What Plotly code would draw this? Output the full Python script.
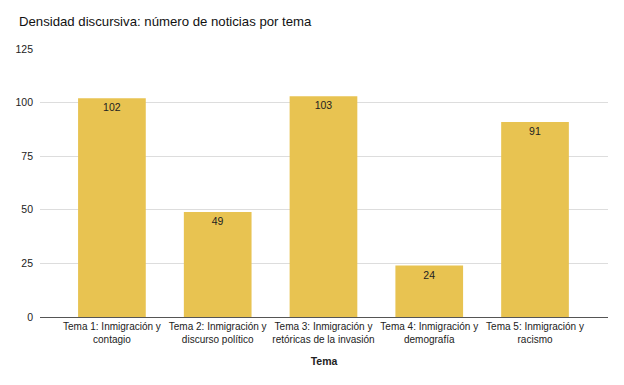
import plotly.graph_objects as go

categories = ["Tema 1: Inmigración y<br>contagio", "Tema 2: Inmigración y<br>discurso político",
              "Tema 3: Inmigración y<br>retóricas de la invasión", "Tema 4: Inmigración y<br>demografía",
              "Tema 5: Inmigración y<br>racismo"]
values = [102, 49, 103, 24, 91]
y_ticks = [0, 25, 50, 75, 100, 125]

fig = go.Figure(go.Bar(
    x=list(range(len(categories))), y=values, width=0.64,
    marker=dict(color="#E8C351", line=dict(width=0)),
    text=[str(v) for v in values], textposition="inside", insidetextanchor="end",
    textfont=dict(family="Liberation Sans, Arial", size=10.5, color="#222222"),
))
fig.update_layout(
    width=624, height=385,
    margin=dict(l=32, r=24, t=41, b=76),
    paper_bgcolor="white", plot_bgcolor="white",
    font=dict(family="Liberation Sans, Arial", size=10.5, color="#222222"),
    title=dict(text="Densidad discursiva: número de noticias por tema", x=0.0176, xanchor="left",
               y=0.964, yanchor="middle", font=dict(size=13.2, color="#111111")),
    showlegend=False,
)
fig.update_xaxes(range=[-0.68, 4.69], tickvals=list(range(len(categories))), ticktext=categories,
                 showgrid=False, showline=True, linecolor="#555555", linewidth=1,
                 ticks="", tickangle=0, automargin=False, tickfont=dict(size=10),
                 title=dict(text="<b>Tema</b>", font=dict(size=10.5), standoff=13))
fig.update_yaxes(range=[0, 125], tickvals=y_ticks, showgrid=True, gridcolor="#DDDDDD", gridwidth=1,
                 zeroline=False, ticks="", tickfont=dict(size=10.5), ticklabelstandoff=6, automargin=False)
fig.write_html("out.html")
